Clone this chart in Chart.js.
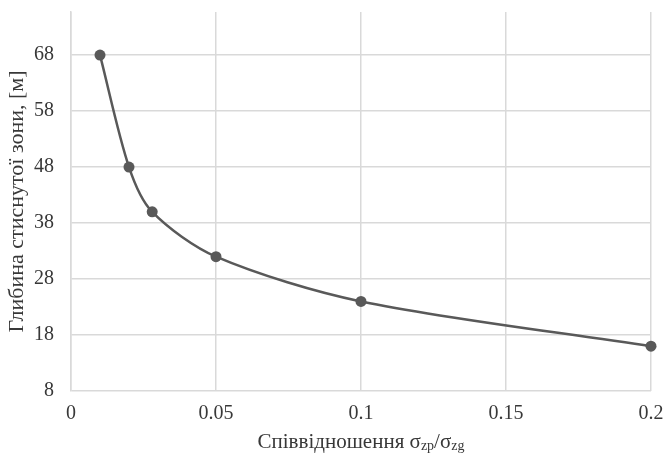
<!DOCTYPE html>
<html>
<head>
<meta charset="utf-8">
<script src="https://cdn.jsdelivr.net/npm/chart.js@4"></script>
<style>
  html, body { margin: 0; padding: 0; background: #fff; }
  #wrap { width: 664px; height: 455px; }
</style>
</head>
<body>
<div id="wrap"><canvas id="depthChart"></canvas></div>
<script>
const ratios = [0.01, 0.02, 0.028, 0.05, 0.1, 0.2];
const depths = [68, 48, 40, 32, 24, 16];
const yTicks = [8, 18, 28, 38, 48, 58, 68];
const xTicks = [0, 0.05, 0.1, 0.15, 0.2];

const serif = "'Liberation Serif', 'Times New Roman', serif";
const textColor = "#383838";

// x axis title with subscripts, drawn below the tick labels
const xTitlePlugin = {
    id: "xTitle",
    afterDraw(chart) {
        const ctx = chart.ctx;
        const area = chart.chartArea;
        const parts = [
            { t: "Співвідношення σ", s: 21, dy: 0 },
            { t: "zp", s: 14, dy: 4 },
            { t: "/σ", s: 21, dy: 0 },
            { t: "zg", s: 14, dy: 4 },
        ];
        let total = 0;
        for (const p of parts) {
            ctx.font = p.s + "px " + serif;
            total += ctx.measureText(p.t).width;
        }
        let x = (area.left + area.right) / 2 - total / 2;
        const y = 442;
        ctx.save();
        ctx.fillStyle = textColor;
        ctx.textBaseline = "middle";
        ctx.textAlign = "left";
        for (const p of parts) {
            ctx.font = p.s + "px " + serif;
            ctx.fillText(p.t, x, y + p.dy);
            x += ctx.measureText(p.t).width;
        }
        ctx.restore();
    },
};

document.addEventListener("DOMContentLoaded", function () {
    const ctx = document.getElementById("depthChart");
    const points = ratios.map((r, i) => ({ x: r, y: depths[i] }));
    new Chart(ctx, {
        type: "line",
        data: {
            datasets: [
                {
                    data: points,
                    borderColor: "#595959",
                    backgroundColor: "#595959",
                    borderWidth: 2.5,
                    pointRadius: 5.5,
                    pointBorderWidth: 0,
                    tension: 0.3,
                    fill: false,
                    clip: false,
                },
            ],
        },
        options: {
            responsive: true,
            maintainAspectRatio: false,
            animation: false,
            layout: { padding: { top: 12, right: 13, bottom: 0, left: 0 } },
            plugins: {
                legend: { display: false },
                tooltip: { enabled: false },
            },
            scales: {
                x: {
                    type: "linear",
                    min: 0,
                    max: 0.2,
                    afterBuildTicks: (axis) => {
                        axis.ticks = xTicks.map((v) => ({ value: v }));
                    },
                    afterFit: (axis) => {
                        axis.height = 64;
                        axis.paddingLeft = 0;
                        axis.paddingRight = 0;
                    },
                    ticks: {
                        color: textColor,
                        font: { family: serif, size: 20 },
                        padding: 11,
                        maxRotation: 0,
                        callback: (v) => String(v),
                    },
                    grid: { color: "#d9d9d9", lineWidth: 1.5, drawTicks: false },
                    border: { display: false },
                },
                y: {
                    min: 8,
                    max: 75.7,
                    afterBuildTicks: (axis) => {
                        axis.ticks = yTicks.map((v) => ({ value: v }));
                    },
                    afterFit: (axis) => {
                        axis.width = 71;
                        axis.paddingTop = 0;
                        axis.paddingBottom = 0;
                    },
                    ticks: {
                        color: textColor,
                        font: { family: serif, size: 20 },
                        padding: 17,
                    },
                    grid: { color: "#d9d9d9", lineWidth: 1.5, drawTicks: false },
                    border: { display: true, color: "#d9d9d9", width: 1.5 },
                    title: {
                        display: true,
                        text: "Глибина стиснутої зони, [м]",
                        color: textColor,
                        font: { family: serif, size: 22 },
                        padding: { top: 4, bottom: 0 },
                    },
                },
            },
        },
        plugins: [xTitlePlugin],
    });
});
</script>
</body>
</html>
